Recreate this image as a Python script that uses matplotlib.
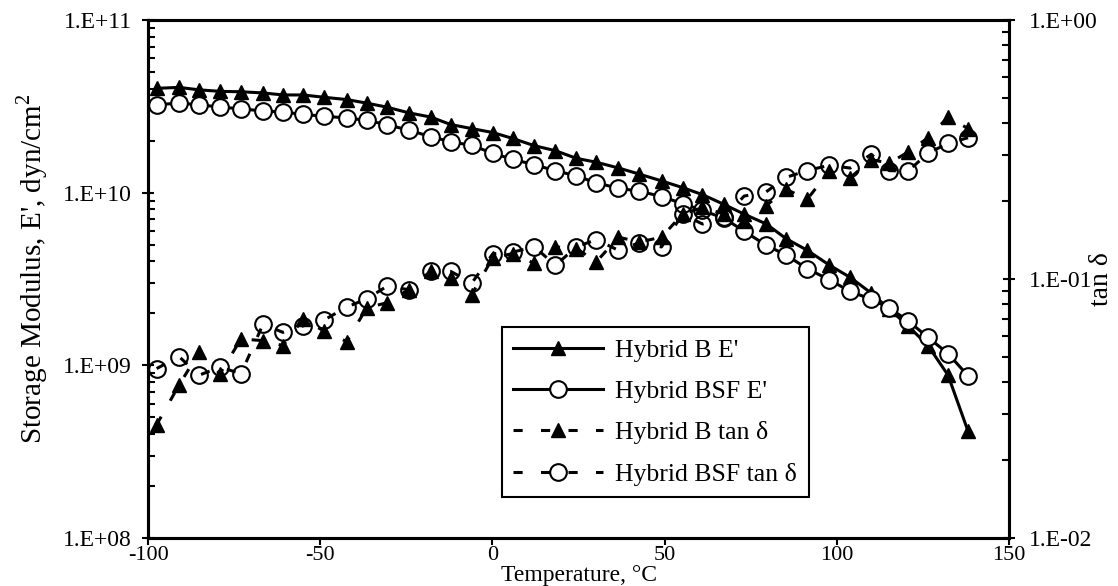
import numpy as np
import matplotlib
matplotlib.use("Agg")
import matplotlib.pyplot as plt
from matplotlib.ticker import LogLocator, FuncFormatter, NullFormatter

plt.rcParams["font.family"] = ["Liberation Serif", "DejaVu Serif"]
plt.rcParams["mathtext.fontset"] = "custom"
plt.rcParams["mathtext.rm"] = "Liberation Serif"
plt.rcParams["axes.unicode_minus"] = False

# temperature, degC
temp = [-97.5, -91.0, -85.2, -79.1, -73.0, -66.6, -60.8, -55.0, -49.0, -42.3,
        -36.5, -30.7, -24.3, -17.9, -12.1, -6.0, 0.1, 5.9, 12.2, 18.3,
        24.4, 30.2, 36.6, 42.7, 49.1, 55.2, 61.0, 67.3, 73.1, 79.5,
        85.3, 91.4, 97.8, 103.9, 110.0, 115.2, 120.7, 126.5, 132.3, 138.1]

# storage modulus, dyn/cm2
e_b = [4.02e10, 4.07e10, 3.94e10, 3.86e10, 3.84e10, 3.78e10, 3.68e10, 3.68e10, 3.57e10, 3.46e10,
       3.30e10, 3.13e10, 2.90e10, 2.74e10, 2.48e10, 2.35e10, 2.23e10, 2.06e10, 1.87e10, 1.75e10,
       1.58e10, 1.50e10, 1.39e10, 1.28e10, 1.17e10, 1.07e10, 9.74e9, 8.54e9, 7.51e9, 6.59e9,
       5.41e9, 4.64e9, 3.81e9, 3.23e9, 2.62e9, 2.12e9, 1.69e9, 1.30e9, 8.77e8, 4.16e8]
e_bsf = [3.23e10, 3.30e10, 3.23e10, 3.13e10, 3.06e10, 2.97e10, 2.93e10, 2.84e10, 2.77e10, 2.71e10,
         2.62e10, 2.48e10, 2.30e10, 2.11e10, 1.97e10, 1.88e10, 1.69e10, 1.56e10, 1.45e10, 1.34e10,
         1.25e10, 1.14e10, 1.06e10, 1.02e10, 9.49e9, 8.65e9, 7.89e9, 7.10e9, 5.98e9, 4.96e9,
         4.35e9, 3.63e9, 3.13e9, 2.68e9, 2.41e9, 2.15e9, 1.81e9, 1.45e9, 1.17e9, 8.69e8]

# tan delta
tan_b = [0.0274, 0.0389, 0.0521, 0.0431, 0.0587, 0.0578, 0.0553, 0.0699, 0.0631, 0.0573,
         0.0774, 0.0809, 0.0910, 0.107, 0.1007, 0.0871, 0.1208, 0.1254, 0.1148, 0.133,
         0.131, 0.1166, 0.145, 0.139, 0.145, 0.178, 0.189, 0.178, 0.168, 0.192,
         0.222, 0.203, 0.261, 0.246, 0.289, 0.280, 0.309, 0.351, 0.422, 0.381]
tan_bsf = [0.0451, 0.0502, 0.0425, 0.0457, 0.0431, 0.0669, 0.0622, 0.0659, 0.0693, 0.0779,
           0.0838, 0.0936, 0.0910, 0.107, 0.107, 0.0964, 0.125, 0.127, 0.133, 0.113,
           0.133, 0.142, 0.129, 0.138, 0.133, 0.178, 0.163, 0.173, 0.209, 0.217,
           0.247, 0.262, 0.275, 0.268, 0.303, 0.262, 0.261, 0.306, 0.334, 0.351]

fig = plt.figure(figsize=(11.18, 5.86), dpi=100)
ax = fig.add_axes([0.1324, 0.0819, 0.7701, 0.884])
ax2 = ax.twinx()

lw = 2.2
l1, = ax.plot(temp, e_b, "-", color="black", lw=lw, marker="^", ms=10,
              mfc="black", mec="black", label="Hybrid B E'")
l2, = ax.plot(temp, e_bsf, "-", color="black", lw=lw, marker="o", ms=12,
              mfc="white", mec="black", mew=1.5, label="Hybrid BSF E'")
dash = (0, (3, 6))
l3, = ax2.plot(temp, tan_b, linestyle=dash, color="black", lw=lw, marker="^", ms=10,
               mfc="black", mec="black", label="Hybrid B tan δ")
l4, = ax2.plot(temp, tan_bsf, linestyle=dash, color="black", lw=lw, marker="o", ms=12,
               mfc="none", mec="black", mew=1.5, label="Hybrid BSF tan δ")

ax.set_xlim(-100, 150)
ax.set_xticks([-100, -50, 0, 50, 100, 150])
ax.set_yscale("log")
ax.set_ylim(1e8, 1e11)
ax2.set_yscale("log")
ax2.set_ylim(1e-2, 1e0)

fmt = FuncFormatter(lambda v, p: "1.E%+03d" % int(round(np.log10(v))))
for a in (ax, ax2):
    a.yaxis.set_major_locator(LogLocator(base=10, numticks=10))
    a.yaxis.set_minor_locator(LogLocator(base=10, subs=np.arange(2, 10), numticks=20))
    a.yaxis.set_major_formatter(fmt)
    a.yaxis.set_minor_formatter(NullFormatter())
    for s in a.spines.values():
        s.set_linewidth(2.2)

ax.tick_params(axis="x", which="major", direction="out", length=5, width=1.5,
               labelsize=16, pad=1)
ax.tick_params(axis="y", which="major", direction="inout", length=9, width=1.5,
               labelsize=17, pad=7)
ax.tick_params(axis="y", which="minor", direction="in", length=5, width=1.5)
ax2.tick_params(axis="y", which="major", direction="inout", length=9, width=1.5,
                labelsize=17, pad=10)
ax2.tick_params(axis="y", which="minor", direction="in", length=5, width=1.5)

ax.set_xlabel("Temperature, °C", fontsize=17, va="baseline")
ax.xaxis.set_label_coords(0.5, -0.083)
ax.set_ylabel(r"Storage Modulus, E', dyn/cm$^\mathregular{2}$", fontsize=21)
ax.yaxis.set_label_coords(-0.114, 0.52)
ax2.set_ylabel("tan δ", fontsize=20)
ax2.yaxis.set_label_coords(1.093, 0.5)

leg = ax2.legend(handles=[l1, l2, l3, l4], loc="lower left",
                 bbox_to_anchor=(0.411, 0.079), fontsize=18.5, frameon=True,
                 fancybox=False, edgecolor="black", framealpha=1,
                 handlelength=3.5, handletextpad=0.47, labelspacing=0.71,
                 borderpad=0.45, borderaxespad=0)
leg.get_frame().set_linewidth(1.5)

fig.savefig("out.png", dpi=100)
